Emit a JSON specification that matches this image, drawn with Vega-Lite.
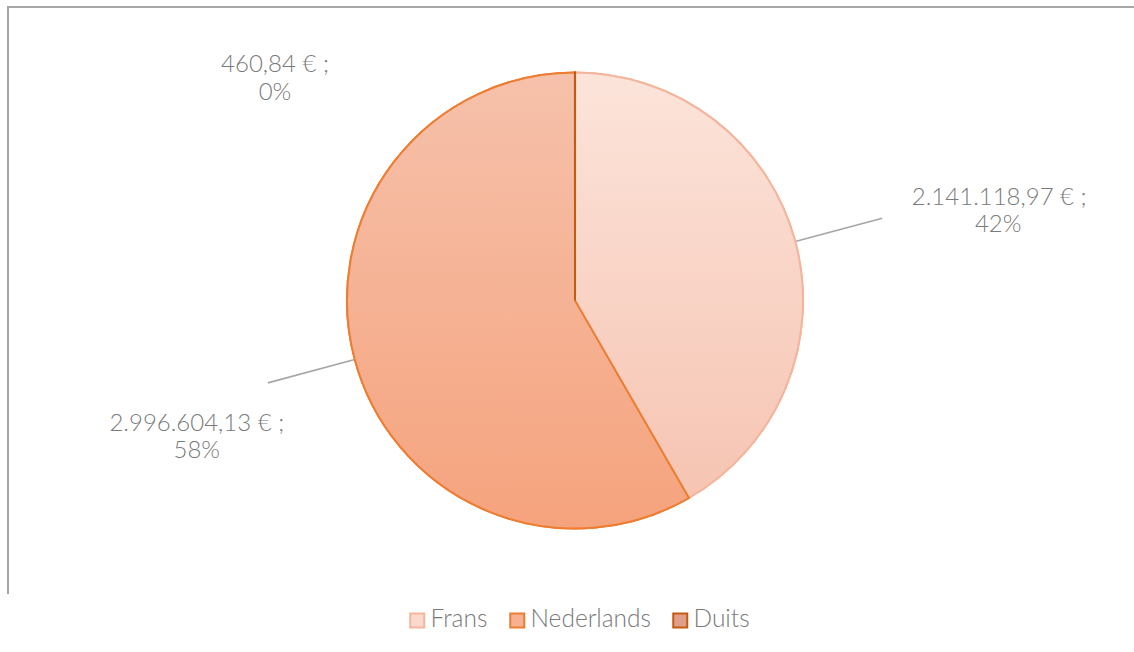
{
  "$schema": "https://vega.github.io/schema/vega-lite/v6.json",
  "width": 1134,
  "height": 587,
  "autosize": {"type": "none"},
  "padding": {"left": 8, "top": 7, "right": -8, "bottom": 58},
  "background": "white",
  "view": {"stroke": "#a6a6a6", "strokeWidth": 2, "strokeDash": [1721, 1134, 700]},
  "config": {
    "locale": {"number": {"decimal": ",", "thousands": ".", "grouping": [3], "currency": ["", " € ;"], "percent": "%"}},
    "legend": {
      "labelFont": "Lato", "labelFontSize": 24.5, "labelFontWeight": 300, "labelColor": "#7a7a7a",
      "symbolType": "square", "symbolSize": 196, "symbolStrokeWidth": 2,
      "labelOffset": 1, "columnPadding": 17, "padding": 0
    }
  },
  "data": {
    "values": [
      {"lang": "Frans", "order": 1, "value": 2141118.97, "share": 0.4167},
      {"lang": "Nederlands", "order": 2, "value": 2996604.13, "share": 0.5832},
      {"lang": "Duits", "order": 3, "value": 460.84, "share": 0.0001}
    ]
  },
  "transform": [
    {"stack": "value", "groupby": [], "sort": [{"field": "order", "order": "ascending"}], "as": ["v0", "v1"]}
  ],
  "layer": [
    {
      "mark": {"type": "arc", "radius": 228, "strokeWidth": 2},
      "encoding": {
        "theta": {"field": "v0", "type": "quantitative", "stack": null},
        "theta2": {"field": "v1"},
        "fill": {"field": "lang", "type": "nominal",
          "scale": {"domain": ["Frans", "Nederlands", "Duits"], "range": ["#fad8cc", "#f6b194", "#dfa08a"]},
          "legend": {"orient": "none", "legendX": 397, "legendY": 601, "direction": "horizontal", "title": null}},
        "stroke": {"field": "lang", "type": "nominal",
          "scale": {"domain": ["Frans", "Nederlands", "Duits"], "range": ["#f4b59c", "#ed7d31", "#c55a11"]},
          "legend": {"orient": "none", "legendX": 397, "legendY": 601, "direction": "horizontal", "title": null}}
      }
    },
    {
      "mark": {"type": "arc", "radius": 228, "strokeWidth": 2},
      "encoding": {
        "theta": {"field": "v0", "type": "quantitative", "stack": null},
        "theta2": {"field": "v1"},
        "fill": {
          "condition": [
            {"test": "datum.lang === 'Frans'", "value": {"gradient": "linear", "x1": 0, "y1": 0, "x2": 0, "y2": 1, "stops": [{"offset": 0, "color": "#fce4da"}, {"offset": 1, "color": "#f6c4b2"}]}},
            {"test": "datum.lang === 'Nederlands'", "value": {"gradient": "linear", "x1": 0, "y1": 0, "x2": 0, "y2": 1, "stops": [{"offset": 0, "color": "#f6c1ab"}, {"offset": 1, "color": "#f5a37d"}]}}
          ],
          "value": {"gradient": "linear", "x1": 0, "y1": 0, "x2": 0, "y2": 1, "stops": [{"offset": 0, "color": "#e8a98d"}, {"offset": 1, "color": "#d8855f"}]}
        },
        "stroke": {"field": "lang", "type": "nominal"}
      }
    },
    {
      "transform": [
        {"fold": ["v0", "v1"], "as": ["edge", "pos"]},
        {"aggregate": [{"op": "mean", "field": "pos", "as": "mid"}], "groupby": ["lang", "value", "share", "order"]},
        {"filter": "datum.lang !== 'Duits'"}
      ],
      "mark": {"type": "arc", "radius": 318, "radius2": 229, "filled": false, "stroke": "#a6a6a6", "strokeWidth": 1.75},
      "encoding": {
        "theta": {"field": "mid", "type": "quantitative", "stack": null},
        "theta2": {"field": "mid"}
      }
    },
    {
      "transform": [
        {"fold": ["v0", "v1"], "as": ["edge", "pos"]},
        {"aggregate": [{"op": "mean", "field": "pos", "as": "mid"}], "groupby": ["lang", "value", "share", "order"]}
      ],
      "mark": {"type": "text", "radius": 229, "font": "Lato", "fontSize": 24, "fontWeight": 300, "fill": "#7a7a7a", "align": "center", "baseline": "alphabetic",
        "dx": {"expr": "datum.lang === 'Frans' ? 203 : datum.lang === 'Nederlands' ? -157 : -300"},
        "dy": {"expr": "datum.lang === 'Frans' ? -36 : datum.lang === 'Nederlands' ? 71 : 0"}},
      "encoding": {
        "theta": {"field": "mid", "type": "quantitative", "stack": null},
        "text": {"field": "value", "type": "quantitative", "format": "$,.2f"}
      }
    },
    {
      "transform": [
        {"fold": ["v0", "v1"], "as": ["edge", "pos"]},
        {"aggregate": [{"op": "mean", "field": "pos", "as": "mid"}], "groupby": ["lang", "value", "share", "order"]}
      ],
      "mark": {"type": "text", "radius": 229, "font": "Lato", "fontSize": 24, "fontWeight": 300, "fill": "#7a7a7a", "align": "center", "baseline": "alphabetic",
        "dx": {"expr": "datum.lang === 'Frans' ? 202 : datum.lang === 'Nederlands' ? -157 : -300"},
        "dy": {"expr": "datum.lang === 'Frans' ? -9 : datum.lang === 'Nederlands' ? 98 : 28"}},
      "encoding": {
        "theta": {"field": "mid", "type": "quantitative", "stack": null},
        "text": {"field": "share", "type": "quantitative", "format": ".0%"}
      }
    }
  ]
}
